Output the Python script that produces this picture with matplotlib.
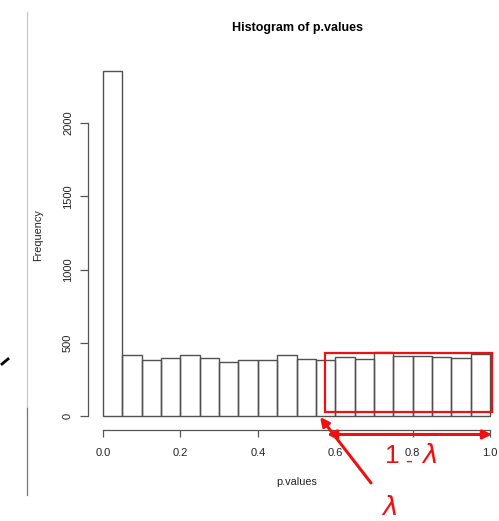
import numpy as np
import matplotlib
matplotlib.use('Agg')
import matplotlib.pyplot as plt
from matplotlib.patches import Rectangle
from matplotlib.lines import Line2D

plt.rcParams['font.family'] = ['Liberation Sans', 'DejaVu Sans']

# histogram of p-values, 20 bins of width 0.05
bin_edges = np.linspace(0.0, 1.0, 21)
counts = [2355, 416, 382, 394, 419, 398, 367, 380, 384, 419,
          387, 382, 400, 391, 439, 410, 410, 400, 396, 423]
yticks = [0, 500, 1000, 1500, 2000]
xticks = [0.0, 0.2, 0.4, 0.6, 0.8, 1.0]

W, H = 499, 521
fig = plt.figure(figsize=(W / 100, H / 100), dpi=100)
ax = fig.add_axes([88 / W, 1 - 430 / H, 407 / W, 370 / H])

ax.bar(bin_edges[:-1], counts, width=0.05, align='edge', fill=False,
       edgecolor='#505050', linewidth=1.0)

ax.set_xlim(-15 / 387, 392 / 387)
ax.set_ylim(-14 / 0.1465, 356 / 0.1465)

# R-style axes
for s in ['top', 'right']:
    ax.spines[s].set_visible(False)
ax.spines['left'].set_bounds(0, 2000)
ax.spines['bottom'].set_bounds(0, 1)
for s in ['left', 'bottom']:
    ax.spines[s].set_color('#555555')
    ax.spines[s].set_linewidth(0.9)

ax.set_yticks(yticks)
ax.set_yticklabels([str(v) for v in yticks], rotation=90, va='center')
ax.set_xticks(xticks)
ax.set_xticklabels(['%.1f' % v for v in xticks])
ax.tick_params(axis='y', length=5.8, width=0.9, color='#555555', pad=5,
               labelsize=8, labelcolor='#222222')
ax.tick_params(axis='x', length=5, width=0.9, color='#555555', pad=8,
               labelsize=8, labelcolor='#222222')

fig.text(297 / W, 1 - 28 / H, 'Histogram of p.values', ha='center', va='center',
         fontsize=9, fontweight='bold')
fig.text(297 / W, 1 - 482 / H, 'p.values', ha='center', va='center',
         fontsize=7.8, color='#222222')
fig.text(38 / W, 1 - 235 / H, 'Frequency', ha='center', va='center',
         rotation=90, fontsize=7.8, color='#222222')

red = '#f01010'
# red box around the bins above lambda
ax.add_patch(Rectangle((0.574, 29), 0.431, 399, fill=False, edgecolor=red,
                       linewidth=1.6, clip_on=False))
# 1 - lambda span
ax.annotate('', xy=(1.005, -126), xytext=(0.579, -126),
            arrowprops=dict(arrowstyle='<|-|>', color=red, lw=2.2,
                            mutation_scale=13, shrinkA=0, shrinkB=0),
            annotation_clip=False)
# lambda pointer
ax.annotate('', xy=(0.561, -7), xytext=(0.6925, -457),
            arrowprops=dict(arrowstyle='-|>', color=red, lw=2.2,
                            mutation_scale=13, shrinkA=0, shrinkB=0),
            annotation_clip=False)

fig.text(392 / W, 1 - 456 / H, '1', ha='center', va='center', fontsize=19, color=red)
fig.text(409 / W, 1 - 461 / H, '-', ha='center', va='center', fontsize=15, color=red)
fig.text(429 / W, 1 - 456 / H, r'$\lambda$', ha='center', va='center', fontsize=19, color=red)
fig.text(389 / W, 1 - 508 / H, r'$\lambda$', ha='center', va='center', fontsize=19, color=red)

# screenshot edge artefacts on the left
fig.add_artist(Line2D([27 / W, 27 / W], [1 - 12 / H, 1 - 408 / H], color='#c8c8c8', lw=0.9))
fig.add_artist(Line2D([27 / W, 27 / W], [1 - 408 / H, 1 - 495 / H], color='#777777', lw=0.9))
fig.add_artist(Line2D([2 / W, 8 / W], [1 - 364 / H, 1 - 359 / H], color='black', lw=2))

fig.savefig('out.png', dpi=100)
